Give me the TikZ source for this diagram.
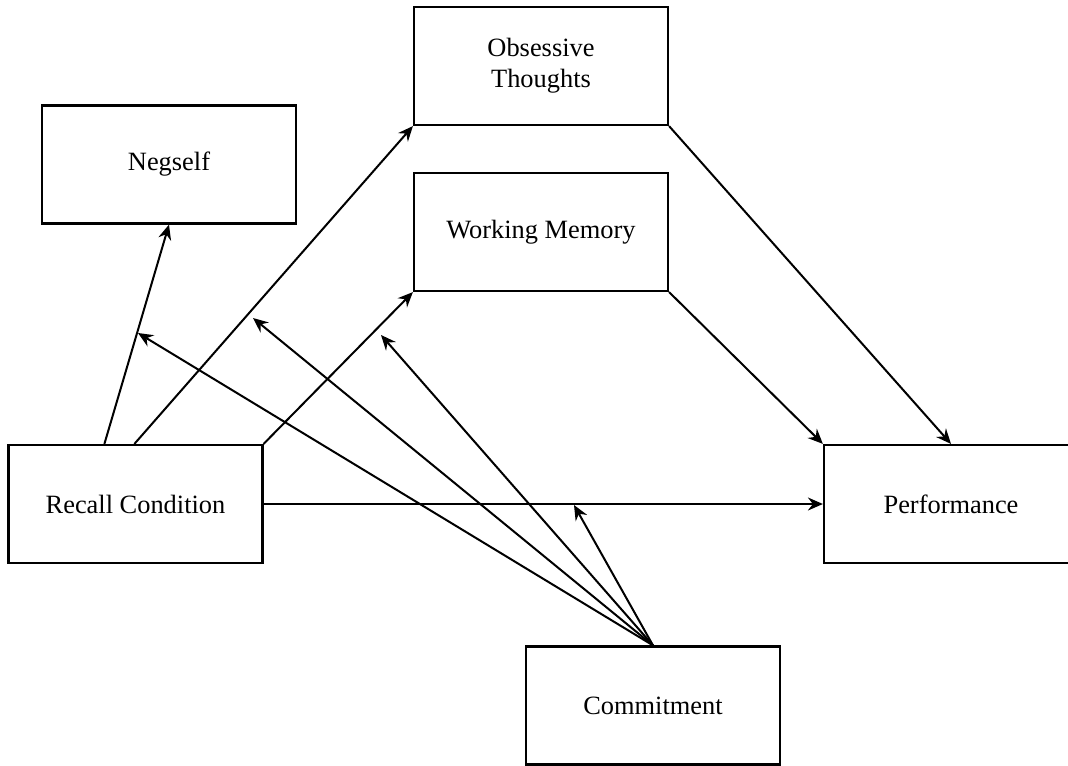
\documentclass[tikz,border=0pt]{standalone}
\usepackage{fontspec}
\setmainfont{Liberation Serif}
\usetikzlibrary{arrows.meta}
\begin{document}
\begin{tikzpicture}[x=0.5pt,y=-0.5pt,
	every node/.style={font=\fontsize{13.2}{15.5}\selectfont},
	box/.style={draw, line width=1.1pt, minimum width=127pt, minimum height=59pt, inner sep=0pt, align=center},
	link/.style={line width=1pt, -{Stealth[length=7.5pt,width=6.5pt,inset=2.5pt]}}]
	\clip (0,0) rectangle (1068,765);
	% boxes
	\node[box] (neg) at (169,164.5) {Negself};
	\node[box] (obs) at (541,66) {Obsessive\\Thoughts};
	\node[box] (wm) at (541,232) {Working Memory};
	\node[box] (rc) at (135.5,504) {Recall Condition};
	\node[box] (perf) at (951,504) {Performance};
	\node[box] (com) at (653,705.5) {Commitment};
	% paths
	\draw[link] ([xshift=48.5pt]rc.north west) -- (neg.south);
	\draw[link] ([xshift=63.5pt]rc.north west) -- (obs.south west);
	\draw[link] (rc.north east) -- (wm.south west);
	\draw[link] (rc.east) -- (perf.west);
	\draw[link] (obs.south east) -- (perf.north);
	\draw[link] (wm.south east) -- (perf.north west);
	% moderation
	\coordinate (m1) at (138,333);
	\coordinate (m2) at (253,318);
	\coordinate (m3) at (381,335);
	\coordinate (m4) at (574,505);
	\foreach \m in {m1,m2,m3,m4}
		\draw[link] (com.north) -- (\m);
\end{tikzpicture}
\end{document}
